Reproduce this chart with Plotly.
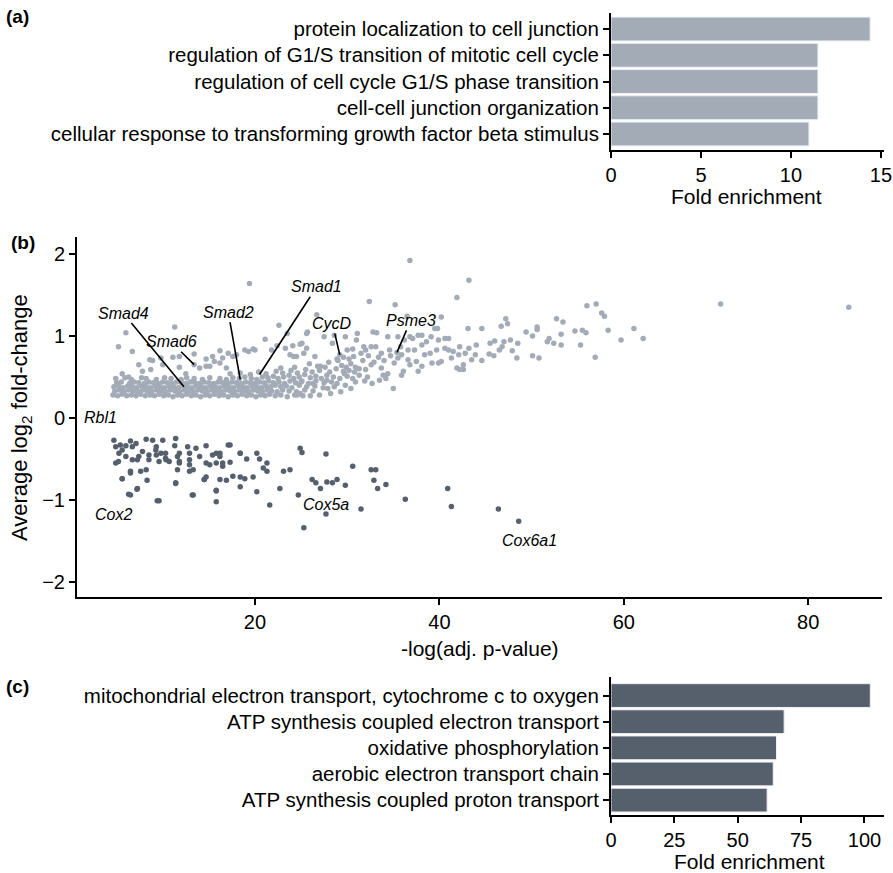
import plotly.graph_objects as go

# ---------------- data ----------------
a_terms = [
    "protein localization to cell junction",
    "regulation of G1/S transition of mitotic cell cycle",
    "regulation of cell cycle G1/S phase transition",
    "cell-cell junction organization",
    "cellular response to transforming growth factor beta stimulus",
]
a_fold = [14.4, 11.5, 11.5, 11.5, 11.0]

c_terms = [
    "mitochondrial electron transport, cytochrome c to oxygen",
    "ATP synthesis coupled electron transport",
    "oxidative phosphorylation",
    "aerobic electron transport chain",
    "ATP synthesis coupled proton transport",
]
c_fold = [102.3, 68.3, 65.3, 64.0, 61.6]

# up-regulated genes: (-log adj p, avg log2 FC) -- dense band
up_band = [
    (4.6,0.28),(5.1,0.27),(5.6,0.29),(6.1,0.27),(6.6,0.28),(7.1,0.27),(7.6,0.29),(8.1,0.27),(8.6,0.28),(9.1,0.27),
    (9.6,0.29),(10.1,0.27),(10.6,0.28),(11.1,0.26),(11.6,0.28),(12.1,0.27),(12.6,0.29),(13.1,0.27),(13.6,0.28),(14.1,0.26),
    (14.6,0.28),(15.1,0.27),(15.6,0.29),(16.1,0.27),(16.6,0.28),(17.1,0.26),(17.6,0.28),(18.1,0.27),(18.6,0.29),(19.1,0.27),
    (19.6,0.28),(20.1,0.26),(20.6,0.28),(21.1,0.27),(21.6,0.29),(22.2,0.27),(22.8,0.28),(23.5,0.26),(24.3,0.28),(25.2,0.27),
    (4.8,0.33),(5.3,0.34),(5.8,0.32),(6.3,0.34),(6.8,0.33),(7.3,0.32),(7.8,0.34),(8.3,0.33),(8.8,0.32),(9.3,0.34),
    (9.8,0.33),(10.3,0.32),(10.8,0.34),(11.3,0.33),(11.8,0.32),(12.3,0.34),(12.8,0.33),(13.3,0.32),(13.8,0.34),(14.3,0.33),
    (14.8,0.32),(15.3,0.34),(15.8,0.33),(16.3,0.32),(16.8,0.34),(17.3,0.33),(17.8,0.32),(18.3,0.34),(18.8,0.33),(19.3,0.32),
    (19.8,0.34),(20.3,0.33),(20.8,0.32),(21.3,0.34),(21.8,0.33),(22.4,0.32),(23.0,0.34),(23.7,0.33),(24.5,0.32),(25.4,0.34),
    (26.3,0.33),
    (4.7,0.38),(5.2,0.39),(5.7,0.37),(6.2,0.39),(6.7,0.38),(7.2,0.37),(7.7,0.39),(8.2,0.38),(8.7,0.37),(9.2,0.39),
    (9.7,0.38),(10.2,0.37),(10.7,0.39),(11.2,0.38),(11.7,0.37),(12.2,0.39),(12.7,0.38),(13.2,0.37),(13.7,0.39),(14.2,0.38),
    (14.7,0.37),(15.2,0.39),(15.7,0.38),(16.2,0.37),(16.7,0.39),(17.2,0.38),(17.7,0.37),(18.2,0.39),(18.7,0.38),(19.2,0.37),
    (19.7,0.39),(20.2,0.38),(20.7,0.37),(21.2,0.39),(21.7,0.38),(22.2,0.40),(22.8,0.38),(23.4,0.39),(24.0,0.37),(24.8,0.40),
    (25.6,0.38),(26.5,0.39),(27.4,0.37),
    (5.0,0.43),(5.5,0.44),(6.4,0.42),(6.9,0.44),(7.4,0.43),(8.0,0.42),(8.5,0.44),(9.0,0.43),(9.5,0.42),(10.0,0.44),
    (10.5,0.43),(11.0,0.42),(11.5,0.44),(12.0,0.43),(12.5,0.42),(13.0,0.44),(13.5,0.43),(14.0,0.42),(14.5,0.44),(15.0,0.43),
    (15.5,0.42),(16.0,0.44),(16.5,0.43),(17.0,0.42),(17.5,0.44),(18.0,0.43),(18.5,0.42),(19.0,0.44),(19.5,0.43),(20.0,0.42),
    (20.5,0.44),(21.0,0.43),(21.5,0.45),(22.0,0.43),(22.6,0.44),(23.2,0.42),(23.8,0.45),(24.4,0.43),(25.0,0.44),(25.8,0.42),
    (26.6,0.45),(27.5,0.43),(28.3,0.44),
    (4.9,0.48),(5.9,0.49),(6.6,0.47),(7.7,0.49),(8.2,0.48),(9.3,0.47),(10.2,0.49),(10.9,0.48),(12.0,0.47),(12.6,0.49),
    (13.4,0.48),(14.3,0.47),(15.1,0.49),(16.2,0.48),(16.9,0.47),(17.6,0.49),(18.3,0.48),(18.9,0.50),(19.6,0.48),(20.2,0.47),
    (20.8,0.50),(21.4,0.49),(22.0,0.51),(22.5,0.48),(23.1,0.50),(23.7,0.52),(24.2,0.48),(24.8,0.50),(25.4,0.53),(26.0,0.49),
    (26.6,0.51),(27.2,0.48),(27.8,0.52),(28.5,0.50),(29.2,0.48),(30.0,0.51),
    (17.3,0.54),(18.4,0.55),(19.5,0.53),(20.4,0.56),(21.2,0.54),(22.3,0.57),(23.0,0.55),(23.9,0.58),(24.6,0.55),(25.5,0.59),
    (26.2,0.56),(27.0,0.58),(27.6,0.62),(28.1,0.56),(28.8,0.60),(29.4,0.64),(30.2,0.58),(30.9,0.62),(26.8,0.63),(25.9,0.66),
    (28.0,0.68),(29.0,0.70),(29.6,0.57),(24.3,0.62),(22.8,0.61),
    (28.9,0.42),(29.8,0.40),(30.4,0.36),(27.0,0.28),(26.0,0.27),(28.2,0.30),(30.9,0.44),(25.1,0.45),(26.3,0.42),(27.9,0.36),
]

# up-regulated genes -- scattered points
up_scatter = [
    (6.0,1.04),(5.2,0.87),(6.7,0.81),(11.3,1.11),(7.4,0.65),(8.6,0.71),(9.8,0.73),(11.8,0.75),(13.4,0.78),(15.4,0.75),
    (16.2,0.67),(14.7,0.63),(19.4,1.64),(22.6,1.13),(21.1,0.96),(19.3,0.81),(20.0,0.83),(17.6,0.75),(24.2,0.75),(25.1,0.91),
    (26.7,1.26),(25.6,1.03),(28.4,0.91),(30.0,0.83),(31.1,1.03),(30.7,0.75),(29.3,0.32),(28.6,0.38),(27.8,0.46),(24.9,0.30),
    (24.6,0.28),(27.1,0.63),(29.7,0.54),(31.3,0.52),
    (8.9,0.70),(10.0,0.65),(11.1,0.74),(11.8,0.62),(13.4,0.65),(14.7,0.72),(16.2,0.82),(15.6,0.69),(7.8,0.57),(8.7,0.59),
    (5.6,0.54),(6.3,0.50),(12.5,0.54),(14.0,0.61),(15.1,0.63),(16.5,0.73),(16.9,0.61),
    (23.5,1.03),(25.7,1.05),(24.9,0.90),(24.1,0.88),(23.3,0.85),(22.4,0.88),(21.8,0.83),(19.8,0.84),(18.9,0.83),(18.0,0.77),
    (17.1,0.79),(27.5,0.99),(28.6,1.01),(29.8,0.99),(31.0,0.95),(31.8,0.87),(30.6,0.84),(26.5,0.75),(25.3,0.79),
    (24.5,0.75),(23.8,0.77),(25.6,0.85),
    (29.2,0.77),(28.9,0.72),(29.6,0.74),(35.4,0.80),
    (31.7,0.70),(32.3,0.76),(32.9,0.68),(33.4,0.74),(34.0,0.70),(34.7,0.76),(31.9,0.45),(32.7,0.42),(33.5,0.46),(34.2,0.48),
    (30.4,0.66),(30.8,0.56),(31.3,0.60),(30.2,0.72),(30.6,0.48),(29.9,0.62),(31.5,0.79),
    (36.8,1.92),(32.4,1.42),(35.2,1.38),(40.2,1.23),(41.9,1.47),(43.2,1.68),
    (33.2,1.04),(33.1,0.87),(32.6,0.87),(32.0,0.83),(33.7,0.79),(34.6,0.83),(35.9,0.77),(36.6,0.83),(37.1,0.97),(38.1,1.01),
    (39.1,0.99),(39.9,0.95),(40.6,0.97),(41.0,0.97),(39.8,1.09),(38.6,0.93),(38.1,0.89),(39.0,0.79),(39.7,0.83),(40.6,0.85),
    (41.5,0.81),(42.1,0.77),(42.8,0.79),(43.2,0.85),(43.1,1.09),(43.9,0.77),(43.5,0.71),(42.2,0.59),(42.6,0.65),(41.3,0.73),
    (40.2,0.69),(39.2,0.67),(38.1,0.63),(37.5,0.69),(36.6,0.71),(36.1,0.57),(35.9,0.52),(35.0,0.36),(33.7,0.61),(34.4,0.54),
    (32.6,0.65),(32.0,0.59),(32.2,0.50),(33.9,0.52),(35.1,0.67),(35.5,0.73),(36.2,0.95),(36.8,0.99),(38.4,0.77),(41.0,0.83),
    (42.2,0.87),(41.9,0.61),(42.6,0.59),
    (32.8,1.05),(34.4,0.99),(35.5,0.99),(37.7,1.01),(39.5,1.09),(36.5,1.24),(37.7,0.57),(36.8,0.65),(39.9,0.67),(35.8,0.87),
    (37.3,0.83),
    (70.5,1.39),(84.4,1.35),(56.0,1.37),(57.0,1.39),(57.6,1.28),(57.9,1.24),(58.3,1.07),(61.1,1.09),(62.1,0.97),(59.7,0.95),
    (56.9,0.74),(55.3,0.89),(54.7,1.06),(55.5,1.07),(55.9,1.04),(52.7,1.21),(53.4,1.17),(53.2,1.02),(53.2,0.89),(52.4,0.91),
    (51.7,0.93),(51.9,0.97),(50.8,0.73),(50.1,0.76),(50.6,1.11),(50.6,1.08),(50.1,1.00),(49.4,1.05),(48.5,0.91),(48.4,0.73),
    (47.9,0.82),(47.7,0.95),(47.0,0.93),(46.8,0.87),(46.5,0.83),(47.2,1.21),(47.4,1.15),(46.7,1.12),(46.0,0.94),(45.5,0.91),
    (45.4,0.78),(45.9,0.76),(44.6,0.70),(44.6,1.09),(44.0,0.89),
]

# down-regulated genes
down_pts = [
    (4.7,-0.27),(4.9,-0.35),(5.4,-0.33),(6.0,-0.34),(6.5,-0.28),(7.1,-0.31),(8.2,-0.26),(8.9,-0.27),(10.0,-0.27),(9.3,-0.35),
    (10.3,-0.43),(11.4,-0.25),(11.3,-0.34),(11.8,-0.43),(12.7,-0.35),(13.6,-0.37),(14.7,-0.34),(15.4,-0.45),(16.2,-0.43),(17.3,-0.33),
    (18.4,-0.43),(19.1,-0.50),(20.2,-0.43),(20.5,-0.50),(21.3,-0.55),(24.9,-0.37),(25.1,-0.42),(27.7,-0.44),(30.6,-0.59),(32.6,-0.63),
    (33.1,-0.63),(32.9,-0.76),(33.3,-0.86),(34.2,-0.81),(40.9,-0.86),(41.3,-1.08),(26.2,-0.75),(26.6,-0.79),(27.1,-0.86),(27.8,-0.78),
    (28.4,-0.79),(28.9,-0.75),(29.8,-0.82),(24.7,-0.94),(31.5,-1.11),(27.7,-1.17),(25.3,-1.34),(21.6,-1.06),(20.2,-0.90),(22.7,-0.86),
    (23.1,-0.65),(23.8,-0.63),(19.8,-0.72),(21.3,-0.65),(20.9,-0.61),(17.6,-0.71),(16.9,-0.76),(16.2,-0.75),(15.8,-0.88),(15.8,-1.02),
    (14.7,-0.72),(14.5,-0.75),(13.3,-0.94),(12.9,-0.65),(12.9,-0.57),(11.6,-0.63),(11.4,-0.80),(9.6,-1.01),(6.5,-0.94),(7.2,-0.87),
    (8.3,-0.76),(7.6,-0.65),(6.5,-0.67),(5.6,-0.74),(4.9,-0.55),(5.2,-0.53),(6.7,-0.51),(7.4,-0.47),(8.5,-0.51),(9.3,-0.45),
    (9.6,-0.53),(10.3,-0.49),(10.7,-0.53),(11.8,-0.53),(12.9,-0.51),(14.0,-0.47),(15.1,-0.57),(15.8,-0.55),(16.5,-0.59),(17.3,-0.54),
    (18.4,-0.72),(18.9,-0.74),(18.4,-0.84),(36.3,-0.99),(46.4,-1.11),(48.6,-1.26),
    (5.25,-0.43),(5.6,-0.39),(6.0,-0.47),(6.7,-0.35),(7.25,-0.51),(7.8,-0.41),(8.5,-0.45),(9.25,-0.39),(9.8,-0.43),(10.35,-0.51),
    (11.6,-0.47),(11.8,-0.55),(12.9,-0.43),(13.3,-0.63),(14.7,-0.55),(15.8,-0.43),(16.2,-0.47),(16.5,-0.55),(17.1,-0.33),(18.4,-0.43),
    (8.2,-0.63),(6.5,-0.65),(5.6,-0.74),(7.25,-0.86),(6.3,-0.93),(9.4,-1.01),(11.4,-0.79),(13.2,-0.94),(15.8,-0.89),(14.5,-0.75),
]

gene_names = ["Smad4", "Smad6", "Smad2", "Smad1", "CycD", "Psme3"]
gene_pts = [(12.3, 0.38), (13.4, 0.65), (18.4, 0.47), (20.5, 0.53), (29.2, 0.77), (35.4, 0.80)]
gene_label_pos = [(5.7, 1.28), (10.9, 0.93), (17.1, 1.29), (26.7, 1.60), (28.4, 1.15), (36.9, 1.19)]

plain_labels = ["Rbl1", "Cox2", "Cox5a", "Cox6a1"]
plain_label_pos = [(3.3, 0.0), (4.7, -1.18), (27.65, -1.06), (49.8, -1.50)]

# ---------------- styles ----------------
LIGHT = "#a3abb7"
DARK = "#56606c"
FONT = "Liberation Sans, Arial, sans-serif"
W, H = 893, 873


def px_x(p):
    return p / W


def px_y(p):
    return 1 - p / H


fig = go.Figure()

# Panel (a)
fig.add_trace(go.Bar(
    x=a_fold, y=a_terms, orientation="h", xaxis="x", yaxis="y",
    marker=dict(color=LIGHT, line=dict(color="#eef0f3", width=1)), width=0.91,
    showlegend=False, hoverinfo="skip"))

# Panel (b)
fig.add_trace(go.Scatter(
    x=[p[0] for p in up_band + up_scatter], y=[p[1] for p in up_band + up_scatter],
    mode="markers", xaxis="x2", yaxis="y2",
    marker=dict(color=LIGHT, size=5.5, line=dict(width=0)), showlegend=False, hoverinfo="skip"))
fig.add_trace(go.Scatter(
    x=[p[0] for p in down_pts], y=[p[1] for p in down_pts],
    mode="markers", xaxis="x2", yaxis="y2",
    marker=dict(color=DARK, size=5.5, line=dict(width=0)), showlegend=False, hoverinfo="skip"))

# Panel (c)
fig.add_trace(go.Bar(
    x=c_fold, y=c_terms, orientation="h", xaxis="x3", yaxis="y3",
    marker=dict(color=DARK, line=dict(color="#eef0f3", width=1)), width=0.91,
    showlegend=False, hoverinfo="skip"))


def axis_style(size):
    return dict(
        showline=True, linecolor="black", linewidth=2, showgrid=False, zeroline=False,
        ticks="outside", ticklen=6, tickwidth=2, tickcolor="black",
        tickfont=dict(family=FONT, size=size, color="black"), automargin=False,
    )


fig.update_layout(
    width=W, height=H, margin=dict(l=0, r=0, t=0, b=0),
    paper_bgcolor="white", plot_bgcolor="white",
    xaxis=dict(domain=[px_x(611), px_x(884)], range=[0, 15.17], tickvals=[0, 5, 10, 15],
               anchor="y", **axis_style(20)),
    yaxis=dict(domain=[px_y(150), px_y(13)], type="category", categoryarray=a_terms,
               range=[4.61, -0.61], anchor="x", **axis_style(20.5)),
    xaxis2=dict(domain=[px_x(77), px_x(882)], range=[0.7, 88.0], tickvals=[20, 40, 60, 80],
                anchor="y2", **axis_style(20)),
    yaxis2=dict(domain=[px_y(597), px_y(237)], range=[-2.183, 2.207], tickvals=[-2, -1, 0, 1, 2],
                anchor="x2", **axis_style(20)),
    xaxis3=dict(domain=[px_x(611), px_x(884)], range=[0, 107.7], tickvals=[0, 25, 50, 75, 100],
                anchor="y3", **axis_style(20)),
    yaxis3=dict(domain=[px_y(815), px_y(677)], type="category", categoryarray=c_terms,
                range=[4.57, -0.71], anchor="x3", **axis_style(20.5)),
)

ann = []
# panel letters
for lab, xp, yp in [("(a)", 17, 16), ("(b)", 23, 242), ("(c)", 17, 686)]:
    ann.append(dict(text=f"<b>{lab}</b>", x=px_x(xp), y=px_y(yp), xref="paper", yref="paper",
                    xanchor="center", yanchor="middle", showarrow=False,
                    font=dict(family=FONT, size=19, color="black")))
# axis titles
ann.append(dict(text="Fold enrichment", x=px_x(746), y=px_y(197), xref="paper", yref="paper",
                xanchor="center", yanchor="middle", showarrow=False,
                font=dict(family=FONT, size=21, color="black")))
ann.append(dict(text="-log(adj. p-value)", x=px_x(480), y=px_y(648), xref="paper", yref="paper",
                xanchor="center", yanchor="middle", showarrow=False,
                font=dict(family=FONT, size=21, color="black")))
ann.append(dict(text="Average log<sub>2</sub> fold-change", x=px_x(21), y=px_y(418), xref="paper", yref="paper",
                xanchor="center", yanchor="middle", showarrow=False, textangle=-90,
                font=dict(family=FONT, size=22, color="black")))
ann.append(dict(text="Fold enrichment", x=px_x(749), y=px_y(861), xref="paper", yref="paper",
                xanchor="center", yanchor="middle", showarrow=False,
                font=dict(family=FONT, size=21, color="black")))
# gene labels with leader lines
for name, (gx, gy), (lx, ly) in zip(gene_names, gene_pts, gene_label_pos):
    ann.append(dict(text=f"<i>{name}</i>", x=gx, y=gy, ax=lx, ay=ly, xref="x2", yref="y2",
                    axref="x2", ayref="y2", showarrow=True, arrowhead=0, arrowwidth=1.6,
                    arrowcolor="black", font=dict(family=FONT, size=16, color="black")))
for name, (lx, ly) in zip(plain_labels, plain_label_pos):
    ann.append(dict(text=f"<i>{name}</i>", x=lx, y=ly, xref="x2", yref="y2",
                    showarrow=False, font=dict(family=FONT, size=16, color="black")))

fig.update_layout(annotations=ann)
fig.write_html("out.html", config={"displayModeBar": False},
               post_script="document.body.style.margin='0';")
